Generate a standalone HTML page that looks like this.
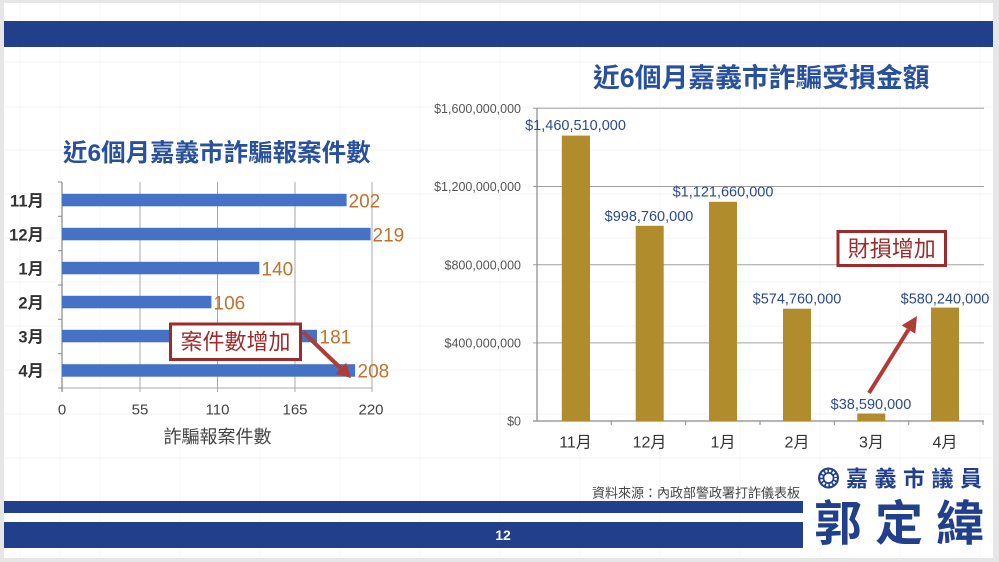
<!DOCTYPE html>
<html><head><meta charset="utf-8">
<style>
html,body{margin:0;padding:0;background:#e8e8e8;}
body{width:999px;height:562px;overflow:hidden;}
svg{display:block;}
</style></head>
<body>
<svg width="999" height="562" viewBox="0 0 999 562" xmlns="http://www.w3.org/2000/svg" font-family="'Liberation Sans','Noto Sans CJK TC',sans-serif">
  <!-- slide -->
  <rect x="0" y="0" width="999" height="562" fill="#e6e6e6"/>
  <rect x="4" y="3" width="989" height="555" fill="#ffffff"/>
  <!-- faint background grid -->
  <g stroke="#f4f4f4" stroke-width="1">
    <line x1="20" y1="3" x2="20" y2="558"/><line x1="60" y1="3" x2="60" y2="558"/><line x1="100" y1="3" x2="100" y2="558"/>
    <line x1="180" y1="3" x2="180" y2="558"/><line x1="260" y1="3" x2="260" y2="558"/><line x1="340" y1="3" x2="340" y2="558"/>
    <line x1="420" y1="3" x2="420" y2="558"/><line x1="500" y1="3" x2="500" y2="558"/><line x1="580" y1="3" x2="580" y2="558"/>
    <line x1="660" y1="3" x2="660" y2="558"/><line x1="740" y1="3" x2="740" y2="558"/><line x1="820" y1="3" x2="820" y2="558"/>
    <line x1="900" y1="3" x2="900" y2="558"/><line x1="980" y1="3" x2="980" y2="558"/>
    <line x1="4" y1="62" x2="993" y2="62"/><line x1="4" y1="107" x2="993" y2="107"/><line x1="4" y1="150" x2="993" y2="150"/>
    <line x1="4" y1="194" x2="993" y2="194"/><line x1="4" y1="238" x2="993" y2="238"/><line x1="4" y1="282" x2="993" y2="282"/>
    <line x1="4" y1="326" x2="993" y2="326"/><line x1="4" y1="370" x2="993" y2="370"/><line x1="4" y1="414" x2="993" y2="414"/>
    <line x1="4" y1="458" x2="993" y2="458"/>
  </g>

  <!-- top band -->
  <rect x="4" y="21" width="989" height="26" fill="#213f8b"/>
  <!-- bottom bands -->
  <rect x="4" y="501" width="799" height="12" fill="#213f8b"/>
  <rect x="4" y="522" width="799" height="26" fill="#213f8b"/>
  <text x="503" y="540" font-size="14" font-weight="bold" fill="#ffffff" text-anchor="middle">12</text>

  <!-- source -->
  <text x="800" y="497.5" font-size="13" fill="#444" text-anchor="end">資料來源：內政部警政署打詐儀表板</text>

  <!-- logo -->
  <circle cx="828.5" cy="478" r="10.5" fill="#213f8b"/>
  <circle cx="828.5" cy="478" r="7.2" fill="none" stroke="#ffffff" stroke-width="2.4" stroke-dasharray="2.2 1.6"/>
  <circle cx="828.5" cy="478" r="4.2" fill="#ffffff"/>
  <text x="846" y="486.5" font-size="22" font-weight="bold" fill="#213f8b" letter-spacing="6.5">嘉義市議員</text>
  <text x="814" y="540" font-size="48" font-weight="bold" fill="#213f8b" letter-spacing="13">郭定緯</text>

  <!-- ========== LEFT CHART ========== -->
  <text x="63" y="161" font-size="24.5" font-weight="bold" fill="#28509c">近6個月嘉義市詐騙報案件數</text>
  <!-- gridlines -->
  <g stroke="#a8a8a8" stroke-width="1">
    <line x1="140" y1="182" x2="140" y2="392"/>
    <line x1="217.5" y1="182" x2="217.5" y2="392"/>
    <line x1="295" y1="182" x2="295" y2="392"/>
    <line x1="372" y1="182" x2="372" y2="392"/>
    <line x1="62" y1="388" x2="372" y2="388"/>
  </g>
  <line x1="62" y1="182" x2="62" y2="392" stroke="#8a8a8a" stroke-width="1.2"/>
  <g stroke="#8a8a8a" stroke-width="1">
    <line x1="58" y1="182" x2="62" y2="182"/><line x1="58" y1="216.3" x2="62" y2="216.3"/>
    <line x1="58" y1="250.7" x2="62" y2="250.7"/><line x1="58" y1="285" x2="62" y2="285"/>
    <line x1="58" y1="319.3" x2="62" y2="319.3"/><line x1="58" y1="353.7" x2="62" y2="353.7"/>
    <line x1="58" y1="388" x2="62" y2="388"/>
  </g>
  <!-- bars -->
  <g fill="#4572c4">
    <rect x="62" y="193.8" width="284.6" height="12.5"/>
    <rect x="62" y="227.8" width="308.6" height="12.5"/>
    <rect x="62" y="261.8" width="197.3" height="12.5"/>
    <rect x="62" y="295.8" width="149.4" height="12.5"/>
    <rect x="62" y="329.8" width="255" height="12.5"/>
    <rect x="62" y="364.2" width="293.1" height="12.5"/>
  </g>
  <!-- values -->
  <g font-size="19" fill="#c0722f">
    <text x="348.5" y="207.5">202</text>
    <text x="372.5" y="241.5">219</text>
    <text x="261.5" y="275.5">140</text>
    <text x="213.5" y="309.5">106</text>
    <text x="319.5" y="343.5">181</text>
    <text x="357.5" y="377.5">208</text>
  </g>
  <!-- categories -->
  <g font-size="16.5" font-weight="bold" fill="#333" text-anchor="end">
    <text x="44" y="206.5">11月</text>
    <text x="44" y="240.5">12月</text>
    <text x="44" y="274.5">1月</text>
    <text x="44" y="308.5">2月</text>
    <text x="44" y="342.5">3月</text>
    <text x="44" y="376.5">4月</text>
  </g>
  <!-- x ticks -->
  <g font-size="15" fill="#444" text-anchor="middle">
    <text x="62" y="414.5">0</text>
    <text x="140" y="414.5">55</text>
    <text x="217.5" y="414.5">110</text>
    <text x="295" y="414.5">165</text>
    <text x="371" y="414.5">220</text>
  </g>
  <text x="217.5" y="443" font-size="18" fill="#444" text-anchor="middle">詐騙報案件數</text>
  <!-- annotation -->
  <rect x="170.5" y="324" width="130" height="35.5" fill="#ffffff" stroke="#9c2b2b" stroke-width="3"/>
  <text x="235.5" y="349.5" font-size="22" fill="#9c2b2b" text-anchor="middle">案件數增加</text>
  <line x1="303" y1="332" x2="341" y2="368.5" stroke="#b03c38" stroke-width="4"/>
  <polygon points="351,378 335.6,373.8 346.2,362.8" fill="#b03c38"/>

  <!-- ========== RIGHT CHART ========== -->
  <text x="593" y="87" font-size="26.8" font-weight="bold" fill="#28509c">近6個月嘉義市詐騙受損金額</text>
  <g stroke="#a0a0a0" stroke-width="1">
    <line x1="533" y1="108.3" x2="984" y2="108.3"/>
    <line x1="533" y1="186.5" x2="984" y2="186.5"/>
    <line x1="533" y1="264.7" x2="984" y2="264.7"/>
    <line x1="533" y1="342.9" x2="984" y2="342.9"/>
  </g>
  <line x1="537" y1="108.3" x2="537" y2="421" stroke="#8a8a8a" stroke-width="1.2"/>
  <line x1="533" y1="421" x2="984" y2="421" stroke="#8a8a8a" stroke-width="1.2"/>
  <g stroke="#8a8a8a" stroke-width="1">
    <line x1="611.3" y1="421" x2="611.3" y2="425"/><line x1="685.7" y1="421" x2="685.7" y2="425"/>
    <line x1="760" y1="421" x2="760" y2="425"/><line x1="834.3" y1="421" x2="834.3" y2="425"/>
    <line x1="908.7" y1="421" x2="908.7" y2="425"/><line x1="983" y1="421" x2="983" y2="425"/>
  </g>
  <g font-size="12.5" fill="#555" text-anchor="end">
    <text x="521" y="113">$1,600,000,000</text>
    <text x="521" y="191">$1,200,000,000</text>
    <text x="521" y="269.3">$800,000,000</text>
    <text x="521" y="347.5">$400,000,000</text>
    <text x="521" y="425.5">$0</text>
  </g>
  <g fill="#b08c2c">
    <rect x="561.8" y="135.6" width="28.2" height="285.4"/>
    <rect x="635.7" y="225.8" width="28" height="195.2"/>
    <rect x="709" y="201.8" width="28" height="219.2"/>
    <rect x="783" y="308.7" width="28" height="112.3"/>
    <rect x="857.3" y="413.5" width="28" height="7.5"/>
    <rect x="931" y="307.6" width="28" height="113.4"/>
  </g>
  <g font-size="14.5" fill="#2d4a8c" text-anchor="middle">
    <text x="575.5" y="130">$1,460,510,000</text>
    <text x="649" y="221">$998,760,000</text>
    <text x="723" y="196.7">$1,121,660,000</text>
    <text x="797" y="303.3">$574,760,000</text>
    <text x="871" y="409">$38,590,000</text>
    <text x="945" y="303.3">$580,240,000</text>
  </g>
  <g font-size="16" fill="#333" text-anchor="middle">
    <text x="575.5" y="447.5">11月</text>
    <text x="649.5" y="447.5">12月</text>
    <text x="723" y="447.5">1月</text>
    <text x="797" y="447.5">2月</text>
    <text x="871.5" y="447.5">3月</text>
    <text x="945" y="447.5">4月</text>
  </g>
  <!-- annotation -->
  <rect x="838" y="231.5" width="107.5" height="34" fill="#ffffff" stroke="#9c2b2b" stroke-width="3"/>
  <text x="891.7" y="256.5" font-size="22" fill="#9c2b2b" text-anchor="middle">財損增加</text>
  <line x1="869" y1="393" x2="908.5" y2="329.6" stroke="#b03c38" stroke-width="4"/>
  <polygon points="917,316 915.3,333.8 901.7,325.4" fill="#b03c38"/>
</svg>
</body></html>
